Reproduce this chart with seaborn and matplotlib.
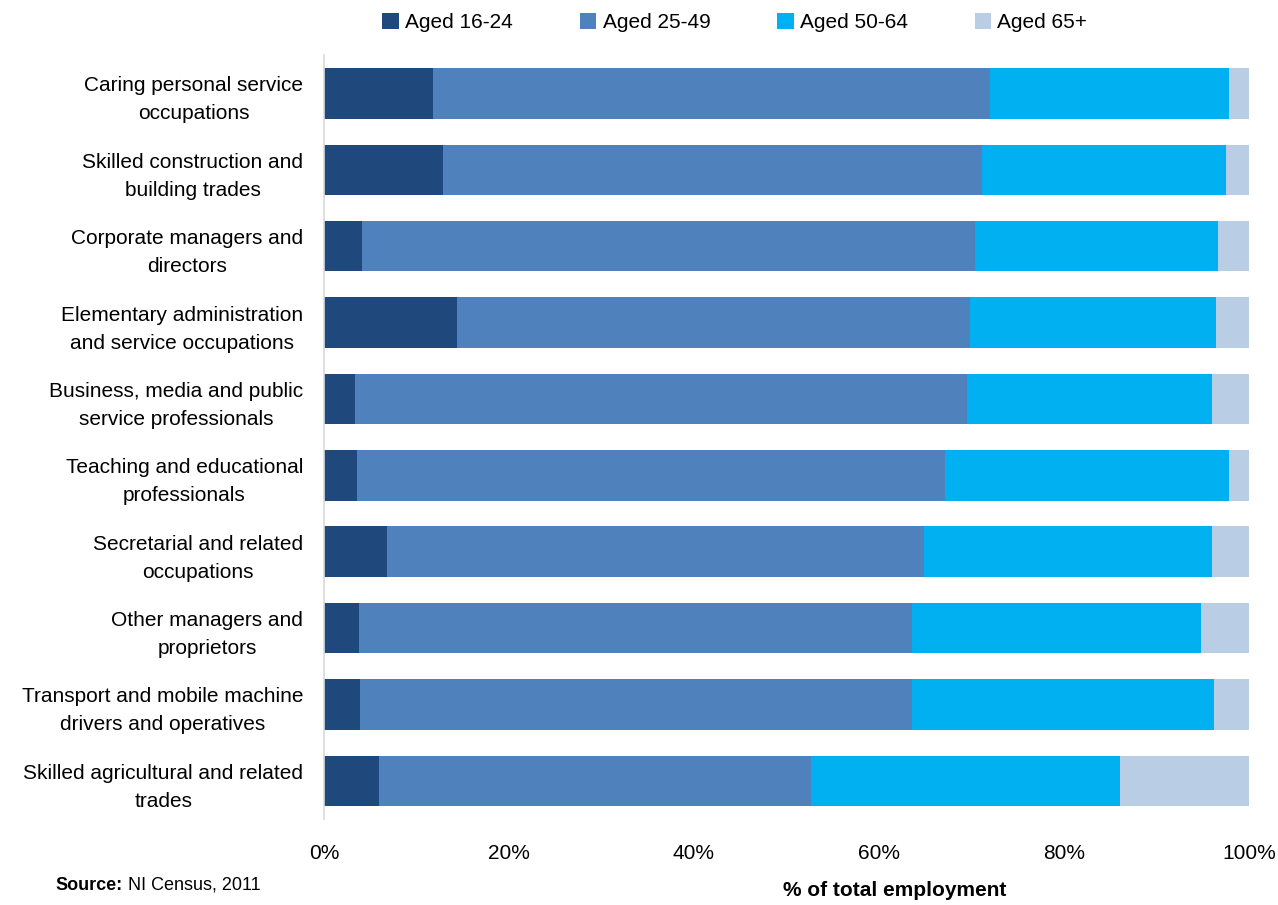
import numpy as np
import pandas as pd
import matplotlib
matplotlib.use("Agg")
import matplotlib.pyplot as plt
import seaborn as sns
from matplotlib.patches import Patch

# -----------------------------
# Data (share of employment by age band, %)
# -----------------------------
occupations = [
    "Caring personal service\noccupations",
    "Skilled construction and\nbuilding trades",
    "Corporate managers and\ndirectors",
    "Elementary administration\nand service occupations",
    "Business, media and public\nservice professionals",
    "Teaching and educational\nprofessionals",
    "Secretarial and related\noccupations",
    "Other managers and\nproprietors",
    "Transport and mobile machine\ndrivers and operatives",
    "Skilled agricultural and related\ntrades",
]
aged_16_24 = [11.8, 12.9, 4.1, 14.4, 3.4, 3.6, 6.8, 3.8, 3.9, 5.9]
aged_25_49 = [60.2, 58.2, 66.3, 55.4, 66.1, 63.5, 58.1, 59.8, 59.7, 46.7]
aged_50_64 = [25.8, 26.4, 26.2, 26.6, 26.5, 30.7, 31.1, 31.2, 32.6, 33.5]
aged_65_plus = [2.2, 2.5, 3.4, 3.6, 4.0, 2.2, 4.0, 5.2, 3.8, 13.9]

series_names = ["Aged 16-24", "Aged 25-49", "Aged 50-64", "Aged 65+"]
colors = ["#1F497D", "#4F81BD", "#00B0F0", "#B9CDE5"]

df = pd.DataFrame({
    "occupation": occupations,
    "Aged 16-24": aged_16_24,
    "Aged 25-49": aged_25_49,
    "Aged 50-64": aged_50_64,
    "Aged 65+": aged_65_plus,
})
cum = df[series_names].cumsum(axis=1)
cum["occupation"] = df["occupation"]

# -----------------------------
# Plot
# -----------------------------
sns.set_theme(style="white")
plt.rcParams["font.family"] = ["Liberation Sans Narrow", "Liberation Sans", "DejaVu Sans"]
plt.rcParams["text.color"] = "black"
plt.rcParams["xtick.color"] = "black"
plt.rcParams["ytick.color"] = "black"
plt.rcParams["axes.labelcolor"] = "black"

fig = plt.figure(figsize=(12.78, 9.05), dpi=100)
ax = fig.add_axes([0.2535, 0.095, 0.7238, 0.844])

# stacked bars: draw cumulative totals from the widest down
for name, col in reversed(list(zip(series_names, colors))):
    sns.barplot(data=cum, x=name, y="occupation", orient="h", color=col,
                width=0.66, ax=ax, saturation=1, linewidth=0)

ax.set_xlim(0, 100)
ax.set_ylim(9.5, -0.5)
ax.set_xticks([0, 20, 40, 60, 80, 100])
ax.set_xticklabels([f"{v}%" for v in [0, 20, 40, 60, 80, 100]], fontsize=15)
ax.tick_params(axis="x", length=0, pad=18)
ax.tick_params(axis="y", length=0, pad=15)
for lab in ax.get_yticklabels():
    lab.set_fontsize(15)
    lab.set_multialignment("center")
    lab.set_linespacing(1.6)
ax.set_ylabel("")
ax.set_xlabel("% of total employment", fontsize=15, fontweight="bold")
ax.xaxis.set_label_coords(0.617, -0.093)
ax.xaxis.label.set_va("center")

for s in ["top", "right", "bottom"]:
    ax.spines[s].set_visible(False)
ax.spines["left"].set_color("#D9D9D9")
ax.spines["left"].set_linewidth(1.2)

handles = [Patch(facecolor=c, edgecolor="none", label=n) for n, c in zip(series_names, colors)]
fig.legend(handles=handles, loc="center", bbox_to_anchor=(0.575, 0.975), ncol=4,
           frameon=False, fontsize=15, handlelength=0.8, handleheight=0.8,
           handletextpad=0.3, columnspacing=3.2)

fig.text(0.043, 0.022, "Source:", fontsize=13, fontweight="bold", ha="left", va="center")
fig.text(0.1, 0.022, "NI Census, 2011", fontsize=13, ha="left", va="center")

fig.savefig("out.png", dpi=100)
